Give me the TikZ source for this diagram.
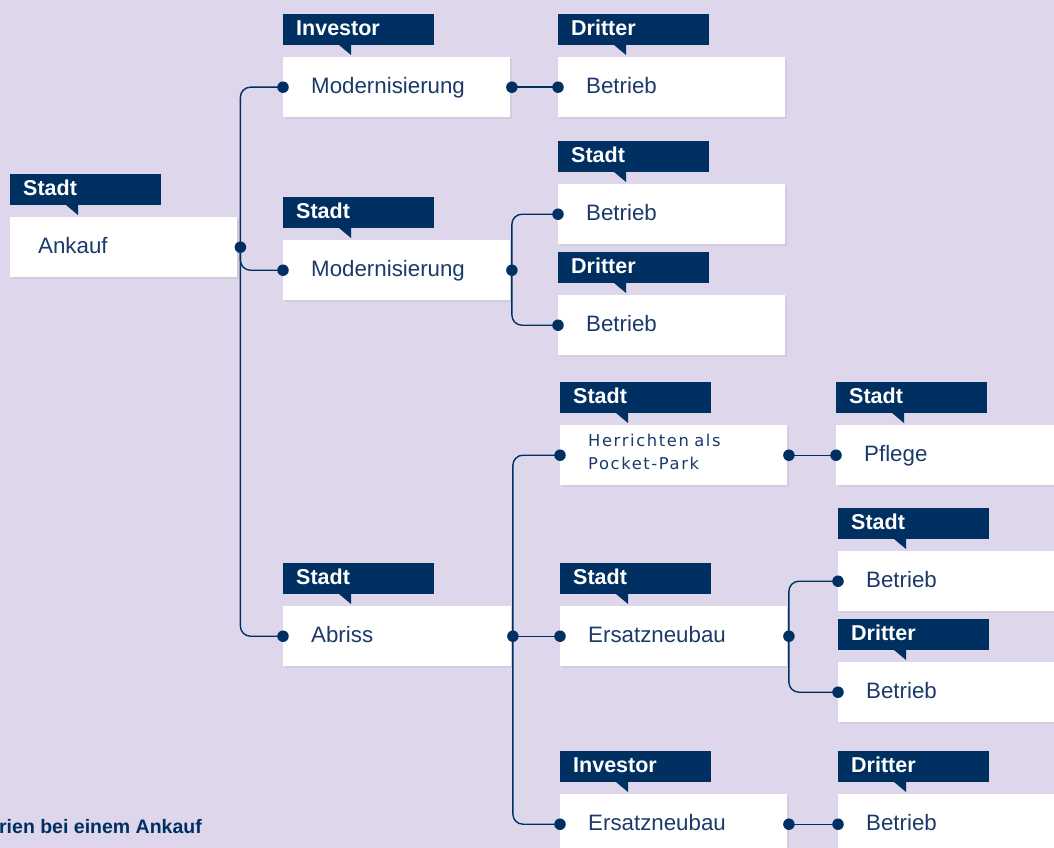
\documentclass[tikz,border=0pt]{standalone}
\usepackage{fontspec}
\setmainfont{Liberation Sans}
\newfontfamily\widefont{DejaVu Sans}
\usetikzlibrary{shadows}
\definecolor{bg}{HTML}{DED7EC}
\definecolor{navy}{HTML}{002F62}
\definecolor{txt}{HTML}{1B3A6B}
\tikzset{
  box/.style={rectangle, fill=white, anchor=north west, minimum height=60pt,
    inner xsep=28pt, inner ysep=0pt, align=left, text=txt,
    text height=17pt, text depth=5pt,
    font=\fontsize{22.3}{24}\selectfont,
    drop shadow={shadow xshift=1.5pt, shadow yshift=-2pt, opacity=0.12}},
  tagbox/.style={rectangle, fill=navy, anchor=south west, minimum width=151pt,
    minimum height=31pt, inner xsep=13pt, inner ysep=0pt, text width=125pt,
    align=left, text=white, text height=17pt, text depth=4pt,
    font=\bfseries\fontsize{21.5}{24}\selectfont},
  dot/.style={circle, fill=navy, inner sep=0pt, minimum size=11.5pt},
  conn/.style={draw=navy, line width=1.4pt, rounded corners=10pt},
  caption/.style={text=navy, font=\bfseries\fontsize{19.5}{22}\selectfont, inner sep=0pt}
}
% name, x, y, text width, tag, text
\newcommand\entry[6]{%
  \node[box, text width=#4pt] (#1) at (#2,#3) {#6};
  \node[tagbox] (#1-tag) at ([yshift=12pt]#1.north west) {#5};
  \fill[navy] ([xshift=56pt]#1-tag.south west) -- ([xshift=68pt]#1-tag.south west)
     -- ([xshift=68pt,yshift=-10pt]#1-tag.south west) -- cycle;
}
\begin{document}
\begin{tikzpicture}[x=1pt,y=-1pt]
\useasboundingbox (0,0) rectangle (1054,848);
\clip (0,0) rectangle (1054,848);
\fill[bg] (0,0) rectangle (1054,848);

\entry{ank}{10}{217}{171}{Stadt}{Ankauf}
\entry{mod1}{283}{57}{171}{Investor}{Modernisierung}
\entry{bet1}{558}{57}{171}{Dritter}{Betrieb}
\entry{mod2}{283}{240}{171}{Stadt}{Modernisierung}
\entry{bet2}{558}{184}{171}{Stadt}{Betrieb}
\entry{bet3}{558}{295}{171}{Dritter}{Betrieb}
\entry{abr}{283}{606}{172}{Stadt}{Abriss}
\node[box, text width=171pt, text height=13pt, text depth=31pt,
  font=\widefont\fontsize{16.3}{23.5}\selectfont\addfontfeature{LetterSpace=10}] (her) at (560,425)
  {Herrichten als\\Pocket-Park};
\node[tagbox] (her-tag) at ([yshift=12pt]her.north west) {Stadt};
\fill[navy] ([xshift=56pt]her-tag.south west) -- ([xshift=68pt]her-tag.south west)
   -- ([xshift=68pt,yshift=-10pt]her-tag.south west) -- cycle;
\entry{pfl}{836}{425}{184}{Stadt}{Pflege}
\entry{ers1}{560}{606}{171}{Stadt}{Ersatzneubau}
\entry{bet4}{838}{551}{184}{Stadt}{Betrieb}
\entry{bet5}{838}{662}{184}{Dritter}{Betrieb}
\entry{ers2}{560}{794}{171}{Investor}{Ersatzneubau}
\entry{bet6}{838}{794}{184}{Dritter}{Betrieb}

% dots
\node[dot] (ankR) at ([xshift=3pt]ank.east) {};
\foreach \n in {mod1,mod2,abr,her,ers1,ers2}{
  \node[dot] (\n R) at ([xshift=1.5pt]\n.east) {};
}
\foreach \n in {mod1,bet1,mod2,bet2,bet3,abr,her,pfl,ers1,bet4,bet5,ers2,bet6}{
  \node[dot] (\n L) at (\n.west) {};
}

% connectors
\draw[conn] (ankR.center) |- (mod1L.center);
\draw[conn] (ankR.center) |- (mod2L.center);
\draw[conn] (ankR.center) |- (abrL.center);
\draw[conn] (mod1R.center) -- (bet1L.center);
\draw[conn] (mod2R.center) |- (bet2L.center);
\draw[conn] (mod2R.center) |- (bet3L.center);
\draw[conn] (abrR.center) |- (herL.center);
\draw[conn] (abrR.center) -- (ers1L.center);
\draw[conn] (abrR.center) |- (ers2L.center);
\draw[conn] (herR.center) -- (pflL.center);
\draw[conn] (ers1R.center) |- (bet4L.center);
\draw[conn] (ers1R.center) |- (bet5L.center);
\draw[conn] (ers2R.center) -- (bet6L.center);

\node[caption, anchor=base east] (cap) at (202,833) {rien bei einem Ankauf};
\end{tikzpicture}
\end{document}
